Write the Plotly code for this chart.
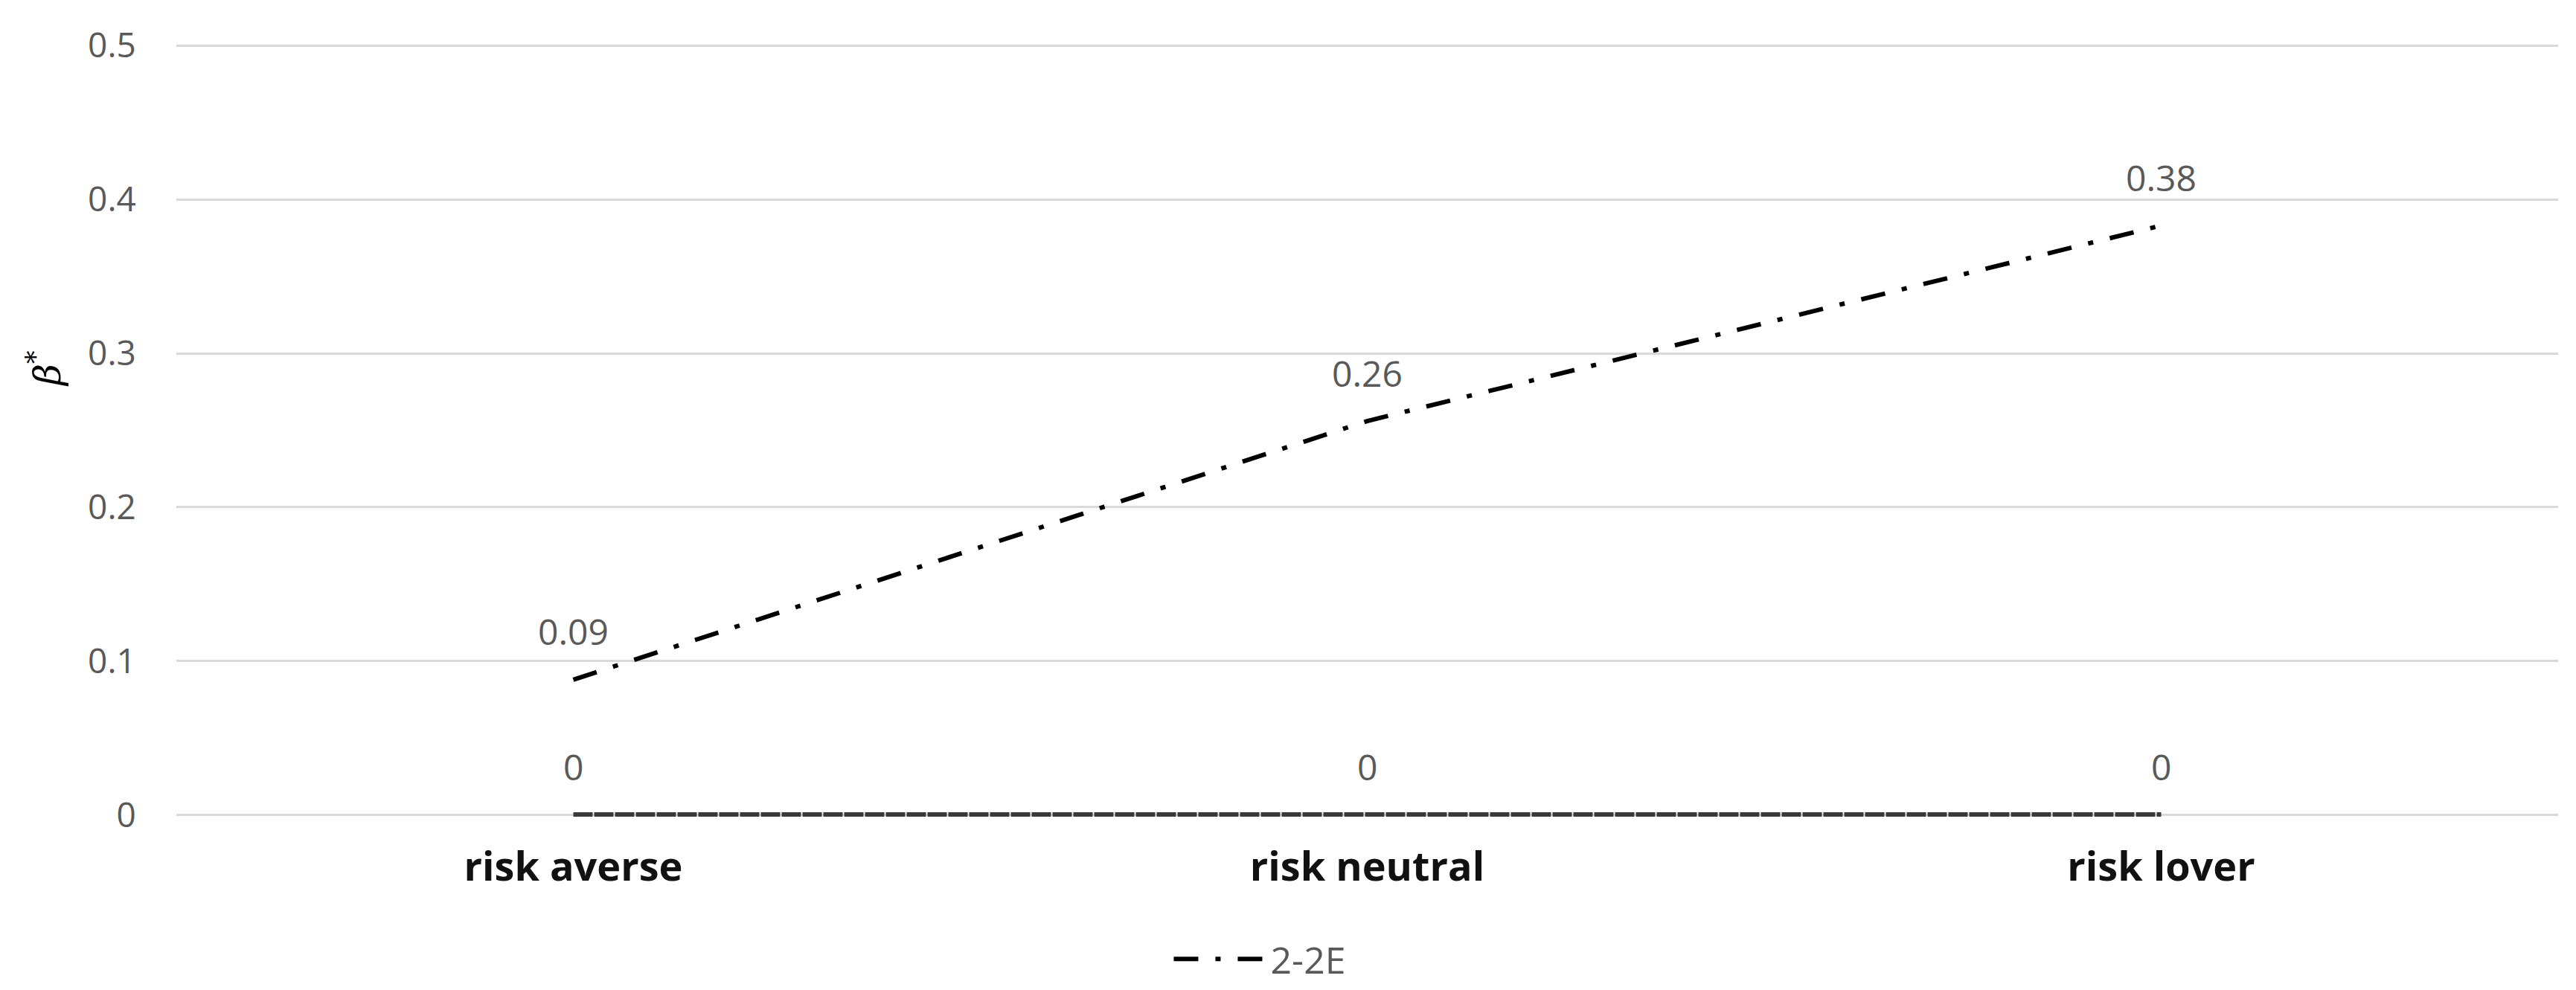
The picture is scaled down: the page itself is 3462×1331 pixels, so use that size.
import plotly.graph_objects as go

categories = ["risk averse", "risk neutral", "risk lover"]
series_2_2e = [0.088, 0.256, 0.383]
series_zero = [0, 0, 0]
y_ticks = [0, 0.1, 0.2, 0.3, 0.4, 0.5]
y_tick_labels = ["0", "0.1", "0.2", "0.3", "0.4", "0.5"]

GRAY = "#595959"
fig = go.Figure()

fig.add_trace(go.Scatter(
    x=categories, y=series_zero, mode="lines", name="zero",
    line=dict(color="#3a3a3a", width=8, dash="26px,2px"),
    showlegend=False, hoverinfo="skip", cliponaxis=False,
))
fig.add_trace(go.Scatter(
    x=categories, y=series_2_2e, mode="lines", name="2-2E",
    line=dict(color="#000000", width=6, dash="33px,23px,7px,23px"),
    cliponaxis=False,
))

for vals in (series_2_2e, series_zero):
    for c, v in zip(categories, vals):
        fig.add_annotation(
            x=c, y=v, text=f"{v:.2f}" if v != 0 else "0",
            showarrow=False, yshift=65, yanchor="middle",
            font=dict(family="Open Sans", size=48, color=GRAY),
        )

fig.add_annotation(
    xref="paper", yref="y", x=-0.066, y=0.29,
    text="<i>β</i><sup>*</sup>", textangle=-90, showarrow=False,
    font=dict(family="DejaVu Serif", size=50, color="#000000"),
)

fig.update_layout(
    width=3462, height=1331,
    margin=dict(l=229, r=32, t=51, b=240),
    paper_bgcolor="white", plot_bgcolor="white",
    showlegend=True,
    legend=dict(
        orientation="h", x=0.455, xanchor="center", y=-0.183, yanchor="middle",
        font=dict(family="Open Sans", size=50, color=GRAY),
        itemwidth=125,
    ),
    xaxis=dict(
        type="category", range=[-0.5, 2.5], showgrid=False, zeroline=False,
        showline=False, ticks="outside", ticklen=20, tickcolor="rgba(0,0,0,0)",
        tickfont=dict(family="Open Sans", size=54, color="#111111", weight="bold"),
    ),
    yaxis=dict(
        range=[-0.001, 0.501], tickvals=y_ticks, ticktext=y_tick_labels,
        showgrid=True, gridcolor="#d9d9d9", gridwidth=3,
        zeroline=False, showline=False,
        ticks="outside", ticklen=44, tickcolor="rgba(0,0,0,0)",
        tickfont=dict(family="Open Sans", size=46, color=GRAY),
    ),
)

fig.write_html("out.html")
